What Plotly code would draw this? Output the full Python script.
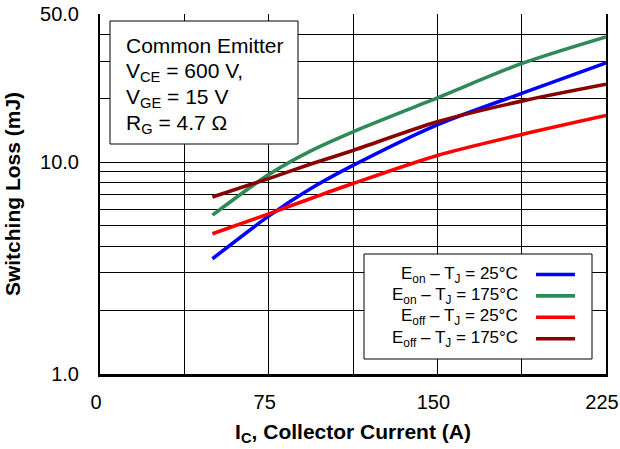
import plotly.graph_objects as go

# ---- data ----
current_a = [50, 75, 93.75, 112.5, 150, 187.5, 225]
eon_25 = [3.50, 5.56, 7.50, 9.65, 15.0, 21.1, 29.4]
eon_175 = [5.62, 8.73, 11.3, 13.9, 20.1, 29.2, 39.0]
eoff_25 = [4.59, 5.70, 6.73, 7.92, 10.75, 13.5, 16.6]
eoff_175 = [6.85, 8.36, 9.79, 11.35, 15.5, 19.4, 23.3]

series_names = [
    "E<sub>on</sub> \u2013 T<sub>J</sub> = 25\u00b0C",
    "E<sub>on</sub> \u2013 T<sub>J</sub> = 175\u00b0C",
    "E<sub>off</sub> \u2013 T<sub>J</sub> = 25\u00b0C",
    "E<sub>off</sub> \u2013 T<sub>J</sub> = 175\u00b0C",
]
series_values = [eon_25, eon_175, eoff_25, eoff_175]
series_colors = ["#0000FF", "#2E8B57", "#FF0000", "#8B0000"]

x_major_ticks = [0, 75, 150, 225]
x_minor_ticks = [37.5, 112.5, 187.5]
y_major_ticks = [1, 10, 50]
y_major_text = ["1.0", "10.0", "50.0"]
y_minor_ticks = [2, 3, 4, 5, 6, 7, 8, 9, 20, 30, 40]

info_lines = [
    "Common Emitter",
    "V<sub>CE</sub> = 600 V,",
    "V<sub>GE</sub> = 15 V",
    "R<sub>G</sub> = 4.7 \u03a9",
]

FONT = "Liberation Sans, Arial, Helvetica, sans-serif"
W, H = 620, 449
ML, MR, MT, MB = 100, 14, 14, 75
PW, PH = W - ML - MR, H - MT - MB


def px_x(p):
    return (p - ML) / PW


def px_y(p):
    return (H - MB - p) / PH


fig = go.Figure()
for name, vals, col in zip(series_names, series_values, series_colors):
    fig.add_trace(go.Scatter(
        x=current_a, y=vals, mode="lines", name=name,
        line=dict(color=col, width=3.6, shape="spline", smoothing=0.8),
        showlegend=False, hoverinfo="skip",
    ))

shapes = []
annotations = []

# info box
shapes.append(dict(type="rect", xref="paper", yref="paper",
                   x0=px_x(110), x1=px_x(298), y0=px_y(144), y1=px_y(21),
                   line=dict(color="black", width=1), fillcolor="white", layer="above"))
for i, t in enumerate(info_lines):
    annotations.append(dict(xref="paper", yref="paper", x=px_x(124), y=px_y(45.5 + i * 26.3),
                            xanchor="left", yanchor="middle", showarrow=False, text=t,
                            font=dict(family=FONT, size=21, color="black")))

# custom legend (text left, line sample right)
shapes.append(dict(type="rect", xref="paper", yref="paper",
                   x0=px_x(364), x1=px_x(592), y0=px_y(359), y1=px_y(254),
                   line=dict(color="black", width=1), fillcolor="white", layer="above"))
for i, (name, col) in enumerate(zip(series_names, series_colors)):
    yy = 274.5 + i * 21.4
    annotations.append(dict(xref="paper", yref="paper", x=px_x(520), y=px_y(yy),
                            xanchor="right", yanchor="middle", showarrow=False, text=name,
                            font=dict(family=FONT, size=17, color="black")))
    shapes.append(dict(type="line", xref="paper", yref="paper",
                       x0=px_x(536), x1=px_x(575), y0=px_y(yy), y1=px_y(yy),
                       line=dict(color=col, width=3.6), layer="above"))

fig.update_layout(
    width=W, height=H,
    margin=dict(l=ML, r=MR, t=MT, b=MB, pad=0, autoexpand=False),
    paper_bgcolor="white", plot_bgcolor="white",
    font=dict(family=FONT, color="black"),
    shapes=shapes, annotations=annotations,
    showlegend=False, hovermode=False,
)

fig.update_xaxes(
    range=[0, 225], tickmode="array", tickvals=x_major_ticks,
    ticks="", ticklabelstandoff=8, ticklabelshift=-4, ticklabeloverflow="allow",
    automargin=False,
    tickfont=dict(family=FONT, size=20, color="black"),
    showgrid=True, gridcolor="black", gridwidth=1,
    minor=dict(tickmode="array", tickvals=x_minor_ticks, showgrid=True,
               gridcolor="black", gridwidth=1),
    showline=True, linecolor="black", linewidth=2.5, mirror=False, zeroline=False,
    title=dict(text="<b>I<sub>C</sub>, Collector Current (A)</b>",
               font=dict(family=FONT, size=21, color="black"), standoff=13),
)
fig.update_yaxes(
    type="log", range=[0, 1.69897], tickmode="array",
    tickvals=y_major_ticks, ticktext=y_major_text,
    ticks="", ticklabelstandoff=15, ticklabeloverflow="allow", automargin=False,
    tickfont=dict(family=FONT, size=20, color="black"),
    showgrid=True, gridcolor="black", gridwidth=1,
    minor=dict(tickmode="array", tickvals=y_minor_ticks, showgrid=True,
               gridcolor="black", gridwidth=1),
    showline=True, linecolor="black", linewidth=2, mirror=True, zeroline=False,
    title=dict(text="<b>Switching Loss (mJ)</b>",
               font=dict(family=FONT, size=21, color="black"), standoff=14),
)

fig.write_html("out.html", config={"displayModeBar": False},
               post_script="document.body.style.margin='0px';")
